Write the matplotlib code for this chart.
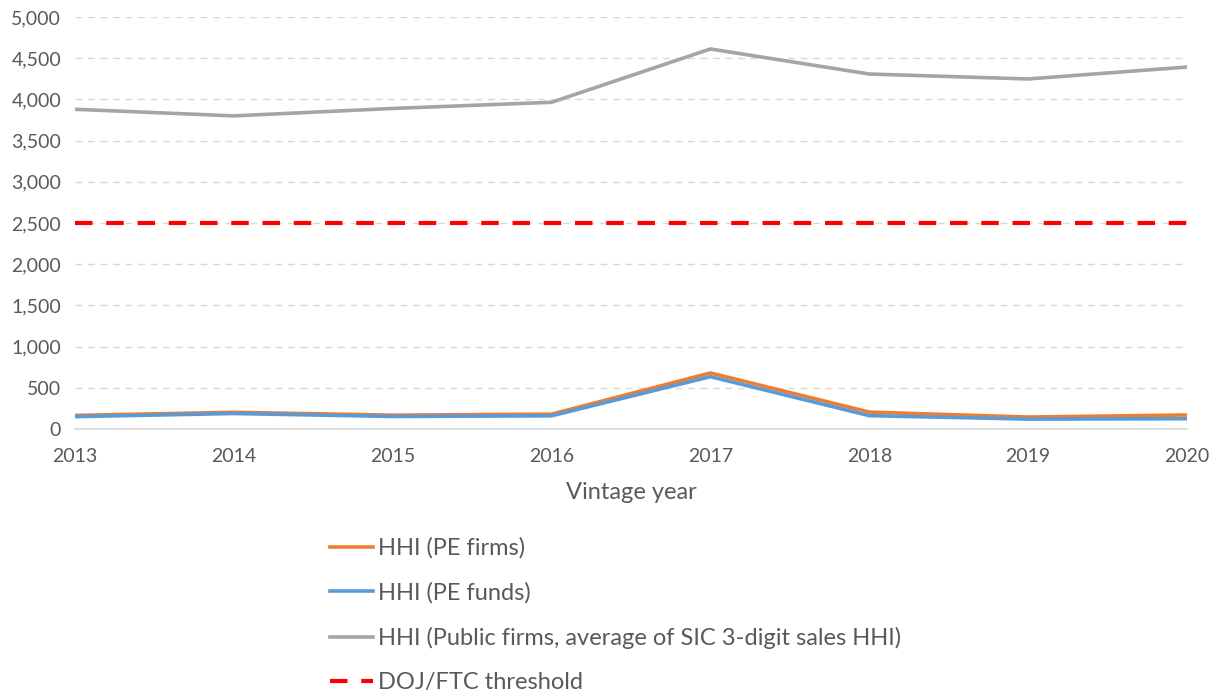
import matplotlib.pyplot as plt
from matplotlib.ticker import FuncFormatter, MultipleLocator

years = [2013, 2014, 2015, 2016, 2017, 2018, 2019, 2020]
pe_firms = [165, 203, 168, 180, 680, 205, 145, 170]
pe_funds = [150, 188, 152, 160, 635, 162, 120, 125]
public_firms = [3880, 3800, 3890, 3965, 4612, 4308, 4248, 4393]
threshold = [2500] * len(years)

labels = ["HHI (PE firms)", "HHI (PE funds)",
          "HHI (Public firms, average of SIC 3-digit sales HHI)",
          "DOJ/FTC threshold"]

plt.rcParams['font.family'] = ['Lato', 'DejaVu Sans']
TEXT = "#595959"

fig = plt.figure(figsize=(12.17, 6.96), dpi=100)
ax = fig.add_axes([75 / 1217, 1 - 429 / 696, (1187 - 75) / 1217, (429 - 17) / 696])

l1, = ax.plot(years, pe_firms, color="#ed7d31", lw=2.6, zorder=3)
l2, = ax.plot(years, pe_funds, color="#5b9bd5", lw=2.6, zorder=4)
l3, = ax.plot(years, public_firms, color="#a5a5a5", lw=2.6, zorder=3)
l4, = ax.plot(years, threshold, color="#ff0000", lw=3, ls=(0, (4.2, 3.3)), zorder=3)

ax.set_xlim(years[0], years[-1])
ax.set_ylim(0, 5000)
ax.yaxis.set_major_locator(MultipleLocator(500))
ax.yaxis.set_major_formatter(FuncFormatter(lambda v, p: f"{int(v):,}"))
ax.set_xticks(years)

ax.grid(axis="y", color="#d9d9d9", ls=(0, (5, 4)), lw=1)
ax.set_axisbelow(True)
for s in ["top", "right", "left"]:
    ax.spines[s].set_visible(False)
ax.spines["bottom"].set_color("#d9d9d9")
ax.spines["bottom"].set_linewidth(1.2)
ax.tick_params(length=0, colors=TEXT, labelsize=14)
ax.tick_params(axis="y", pad=10)
ax.tick_params(axis="x", pad=14)
ax.set_xlabel("Vintage year", color=TEXT, fontsize=17, labelpad=12)

fig.legend([l1, l2, l3, l4], labels, loc="upper left",
           bbox_to_anchor=(309 / 1217, 1 - 516 / 696), frameon=False,
           fontsize=17, labelcolor=TEXT, handlelength=1.8,
           handletextpad=0.22, labelspacing=0.99)

fig.savefig("out.png", dpi=100)
